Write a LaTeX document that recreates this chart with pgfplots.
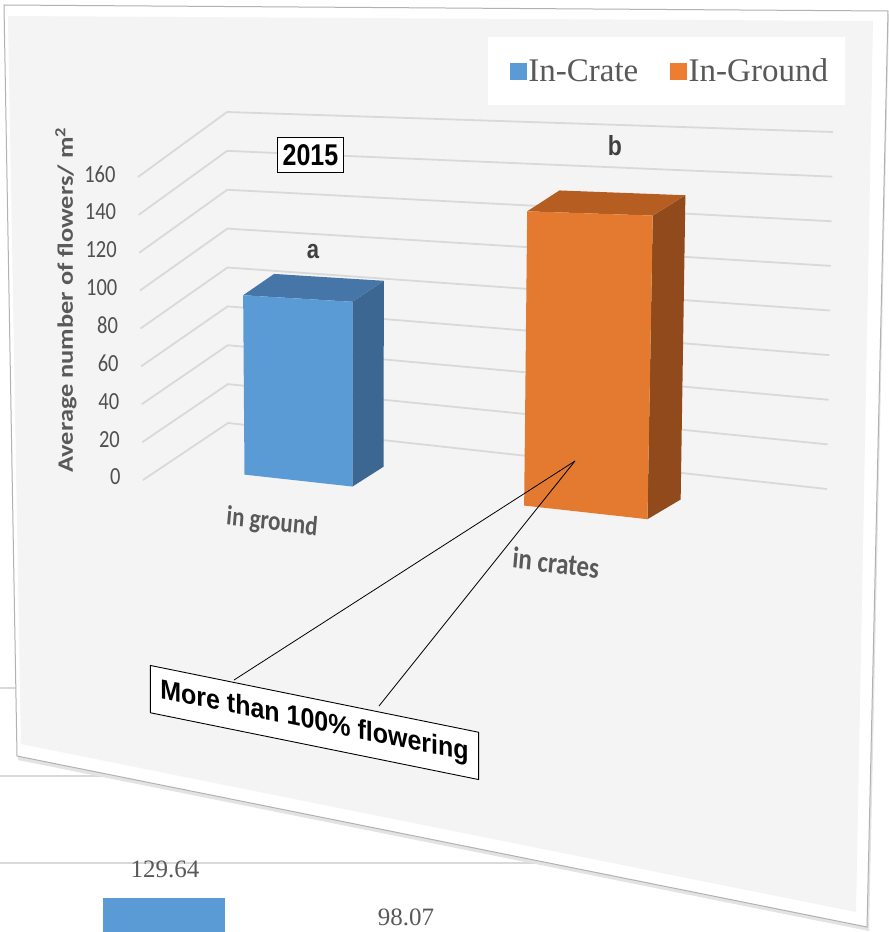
\documentclass[border=0pt]{standalone}
\usepackage{pgfplots}
\pgfplotsset{compat=1.18}
\usepackage{pgfplotstable}
\usepackage{fontspec}
\setmainfont{Carlito}
\newfontfamily\arialf{Liberation Sans}
\newfontfamily\timesf{Liberation Serif}
\newcommand\fnt[1]{\fontsize{#1}{#1}\selectfont}

\definecolor{panel}{HTML}{F4F4F4}
\definecolor{gridc}{HTML}{D9D9D9}
\definecolor{txtgray}{HTML}{595959}
\definecolor{dark}{HTML}{404040}
\definecolor{bfront}{HTML}{5B9BD5}
\definecolor{btop}{HTML}{4676A8}
\definecolor{bside}{HTML}{3C6792}
\definecolor{ofront}{HTML}{E47A2F}
\definecolor{otop}{HTML}{B65E22}
\definecolor{oside}{HTML}{914A1B}
\definecolor{lorange}{HTML}{ED7D31}

% bar data: horizontal position (u1,u2) and value
\pgfplotstableread{
cat u1 u2 val
ground 0.136 0.319 92
crates 0.610 0.819 140
}\bardata

\newcommand\drawbar[6]{%
 \addplot[fill=#6,draw=none,forget plot] table[row sep=\\,x expr={PX(\thisrow{u},\thisrow{d},\thisrow{h}*#3)},y expr={PY(\thisrow{u},\thisrow{d},\thisrow{h}*#3)}]{u d h\\ #2 0.25 0\\ #2 0.6 0\\ #2 0.6 1\\ #2 0.25 1\\};
 \addplot[fill=#5,draw=none,forget plot] table[row sep=\\,x expr={PX(\thisrow{u},\thisrow{d},\thisrow{h}*#3)},y expr={PY(\thisrow{u},\thisrow{d},\thisrow{h}*#3)}]{u d h\\ #1 0.25 1\\ #2 0.25 1\\ #2 0.6 1\\ #1 0.6 1\\};
 \addplot[fill=#4,draw=none,forget plot] table[row sep=\\,x expr={PX(\thisrow{u},\thisrow{d},\thisrow{h}*#3)},y expr={PY(\thisrow{u},\thisrow{d},\thisrow{h}*#3)}]{u d h\\ #1 0.25 0\\ #2 0.25 0\\ #2 0.25 1\\ #1 0.25 1\\};
}

\begin{document}
\begin{tikzpicture}[declare function={
 PX(\pu,\pd,\pv)=(1-\pu)*((1-\pd)*(143-5*\pv/160)+\pd*(228-1*\pv/160))+\pu*((1-\pd)*(730+9*\pv/160)+\pd*(827+6*\pv/160));
 PY(\pu,\pd,\pv)=(1-\pu)*((1-\pd)*(480-303*\pv/160)+\pd*(423-311*\pv/160))+\pu*((1-\pd)*(545-356*\pv/160)+\pd*(489-357*\pv/160));
}]
\begin{axis}[x=1pt, y=1pt, xmin=0, xmax=889, ymin=0, ymax=932, y dir=reverse,
  hide axis, scale only axis, clip=true,
  legend columns=2,
  legend style={at={(axis cs:670,71)}, anchor=center, draw=none, fill=none,
    font=\timesf\fnt{33}, nodes={text=txtgray, inner xsep=2pt, inner ysep=1pt},
    /tikz/every even column/.append style={column sep=30pt}}]

% background
\fill[white] (0,0) rectangle (889,932);
% fragment of the chart below
\draw[gridc, line width=1.5pt] (0,688) -- (600,688);
\draw[gridc, line width=1.5pt] (0,776) -- (600,776);
\draw[gridc, line width=1.5pt] (0,863) -- (540,863);
\addplot[fill=bfront, draw=none, forget plot] coordinates {(103,898) (225,898) (225,940) (103,940)};
\node[font=\timesf\fnt{25}, text=txtgray] at (165,869) {129.64};
\node[font=\timesf\fnt{25}, text=txtgray] at (406,917) {98.07};

% tilted panel
\fill[gray!22] (5,8) -- (889,14) -- (869,931) -- (18,760) -- cycle;
\filldraw[fill=white, draw=gray!60, line width=1pt] (4,5) -- (888,11) -- (867,927) -- (17,756) -- cycle;
\fill[panel] (8,16) -- (873,21) -- (856,912) -- (21,744) -- cycle;

% gridlines (left wall + back wall) and tick labels
\pgfplotsinvokeforeach{0,20,...,160}{
 \addplot[gridc, line width=1.8pt, forget plot] table[row sep=\\, x expr={PX(\thisrow{u},\thisrow{d},#1)}, y expr={PY(\thisrow{u},\thisrow{d},#1)}] {u d\\ 0 0\\ 0 1\\ 1 1\\};
 \node[anchor=east, font=\fnt{20.5}, text=txtgray!90!black, yscale=1.2] at (axis cs:{PX(0,0,#1)-19},{PY(0,0,#1)-3}) {#1};
}

% bars
\pgfplotstablegetelem{0}{u1}\of\bardata\let\ua\pgfplotsretval
\pgfplotstablegetelem{0}{u2}\of\bardata\let\ub\pgfplotsretval
\pgfplotstablegetelem{0}{val}\of\bardata\let\va\pgfplotsretval
\edef\tmp{\noexpand\drawbar{\ua}{\ub}{\va}{bfront}{btop}{bside}}\tmp
\pgfplotstablegetelem{1}{u1}\of\bardata\let\ua\pgfplotsretval
\pgfplotstablegetelem{1}{u2}\of\bardata\let\ub\pgfplotsretval
\pgfplotstablegetelem{1}{val}\of\bardata\let\va\pgfplotsretval
\edef\tmp{\noexpand\drawbar{\ua}{\ub}{\va}{ofront}{otop}{oside}}\tmp

% texts
\node[font=\bfseries\fnt{22}, text=txtgray, yscale=1.2, rotate=90] at (66,300) {Average number of flowers/ m\textsuperscript{2}};
\node[font=\arialf\bfseries\fnt{22}, text=dark, yscale=1.2] at (313,252) {a};
\node[font=\arialf\bfseries\fnt{23}, text=dark, yscale=1.2] at (615,146) {b};
\node[draw=black, line width=0.9pt, fill=white, font=\arialf\bfseries\fnt{25}, inner xsep=5pt, inner ysep=1pt, minimum height=29pt, yscale=1.2] at (310.5,155) {2015};
\node[font=\bfseries\fnt{23}, text=txtgray, yscale=1.2, rotate=-6] at (272,523) {in ground};
\node[font=\bfseries\fnt{25}, text=txtgray, yscale=1.2, rotate=-6] at (556,563) {in crates};

% callout
\draw[black, line width=0.8pt] (575,461) -- (234,680);
\draw[black, line width=0.8pt] (575,461) -- (379,706);
\node[draw=black, line width=0.9pt, fill=white, font=\arialf\bfseries\fnt{25}, inner xsep=10pt, minimum height=43pt, yscale=1.1, yslant=-0.185] at (314.5,722.5) {More than 100\% flowering};

% legend box
\fill[white] (488,37) rectangle (845,105);
\addlegendimage{legend image code/.code={\fill[bfront] (0pt,-8pt) rectangle (16pt,8pt);}}
\addlegendentry{In-Crate}
\addlegendimage{legend image code/.code={\fill[lorange] (0pt,-8pt) rectangle (16pt,8pt);}}
\addlegendentry{In-Ground}
\end{axis}
\end{tikzpicture}
\end{document}
